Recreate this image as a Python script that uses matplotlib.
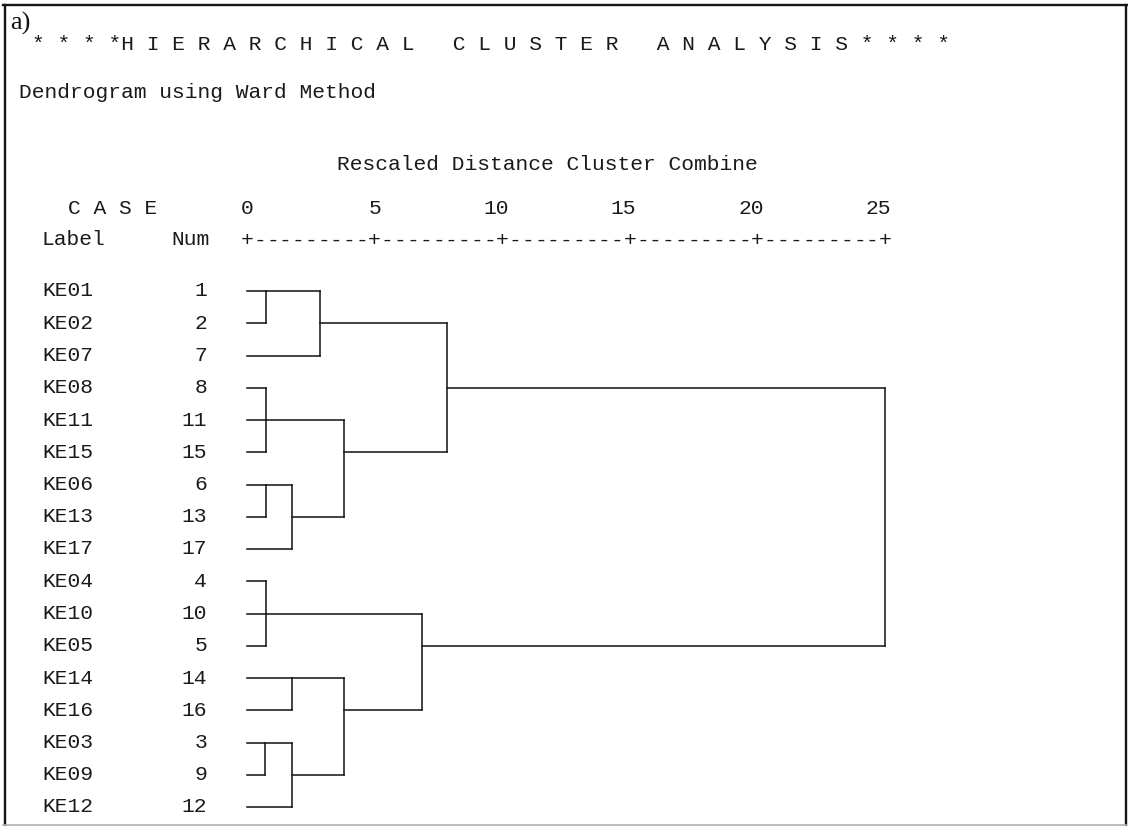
import numpy as np
import matplotlib.pyplot as plt
from matplotlib.lines import Line2D
from matplotlib.transforms import ScaledTranslation

# cases in dendrogram order (top to bottom)
case_labels = ["KE01", "KE02", "KE07", "KE08", "KE11", "KE15", "KE06", "KE13", "KE17",
               "KE04", "KE10", "KE05", "KE14", "KE16", "KE03", "KE09", "KE12"]
case_nums = [1, 2, 7, 8, 11, 15, 6, 13, 17, 4, 10, 5, 14, 16, 3, 9, 12]

# agglomeration steps: new cluster id, what it joins, rescaled distance
merge_ids = ["c1", "c2", "c3", "c4", "c5", "c6", "c7", "c8", "c9",
             "c10", "c11", "c12", "c13", "c14"]
merge_children = [[1, 2], [8, 11, 15], [6, 13], [4, 10, 5], [3, 9],
                  ["c5", 12], [14, 16], ["c3", 17], ["c1", 7],
                  ["c2", "c8"], ["c7", "c6"], ["c4", "c11"],
                  ["c9", "c10"], ["c13", "c12"]]
merge_heights = [0.75, 0.75, 0.75, 0.75, 0.72, 1.78, 1.78, 1.78, 2.85,
                 3.82, 3.80, 6.85, 7.85, 25.0]

tick_values = [0, 5, 10, 15, 20, 25]

W, H, DPI = 1128, 826, 100
MONO = "Liberation Mono"
CHAR_PX = 12.78                      # width of one character cell
FS = CHAR_PX / 0.6 * 72 / DPI        # Liberation Mono advance is 0.6 em
INK = "#1a1a1a"

fig = plt.figure(figsize=(W / DPI, H / DPI), dpi=DPI)
fig.patch.set_facecolor("white")


def px(x, y):
    return x / W, 1 - y / H


# frame around the printout
frame = dict(transform=fig.transFigure, color="#161616", lw=1.7)
fig.add_artist(Line2D([3 / W, 1], [1 - 5 / H] * 2, **frame))
fig.add_artist(Line2D([4.5 / W] * 2, [0, 1 - 5 / H], **frame))
fig.add_artist(Line2D([1126 / W] * 2, [0, 1 - 5 / H], **frame))
fig.add_artist(Line2D([3 / W, 1126 / W], [0.8 / H] * 2, transform=fig.transFigure,
                      color="#b0b0b0", lw=1.2))

txt = dict(family=MONO, fontsize=FS, color=INK, va="center")
fig.text(*px(10, 23), "a)", family="Liberation Serif", fontsize=19, color="#111111",
         va="center", ha="left")
fig.text(*px(19 + CHAR_PX, 45),
         "* * * *H I E R A R C H I C A L   C L U S T E R   A N A L Y S I S * * * *",
         ha="left", **txt)
fig.text(*px(19, 93), "Dendrogram using Ward Method", ha="left", **txt)
fig.text(*px(337, 165), "Rescaled Distance Cluster Combine", ha="left", **txt)
fig.text(*px(68, 208), "C A S E", ha="left", **txt)
fig.text(*px(42, 240), "Label", ha="left", **txt)
fig.text(*px(210, 240), "Num", ha="right", **txt)

# dendrogram panel: x = rescaled distance 0..25, y = case row
x0, x25 = 247, 885
y_top, y_bot = 291, 807
ax = fig.add_axes([x0 / W, 1 - y_bot / H, (x25 - x0) / W, (y_bot - y_top) / H])
ax.set_xlim(0, 25)
ax.set_ylim(len(case_nums) - 1, 0)
ax.axis("off")

yax = ax.get_yaxis_transform()
for i, (lab, num) in enumerate(zip(case_labels, case_nums)):
    ax.text((42 - x0) / (x25 - x0), i, lab, transform=yax, ha="left", **txt)
    ax.text((207 - x0) / (x25 - x0), i, str(num), transform=yax, ha="right", **txt)

# distance ruler +---------+---- and its numbers
xax = ax.get_xaxis_transform()
ruler_y = 1 + (y_top - 240) / (y_bot - y_top)
num_y = 1 + (y_top - 208) / (y_bot - y_top)
for v in np.arange(0, 25.01, 0.5):
    ch = "+" if v % 5 == 0 else "-"
    ax.text(v, ruler_y, ch, transform=xax, ha="center", **txt)
shift = xax + ScaledTranslation(CHAR_PX / 2 / DPI, 0, fig.dpi_scale_trans)
for t in tick_values:
    ax.text(t, num_y, str(t), transform=shift, ha="right", **txt)

# tree
node_row = {n: i for i, n in enumerate(case_nums)}
node_x = {n: 0.0 for n in case_nums}
seg = dict(color=INK, lw=1.15, solid_capstyle="projecting", clip_on=False)
for mid, kids, h in zip(merge_ids, merge_children, merge_heights):
    rows = [node_row[k] for k in kids]
    for k in kids:
        ax.plot([node_x[k], h], [node_row[k], node_row[k]], **seg)
    ax.plot([h, h], [min(rows), max(rows)], **seg)
    node_row[mid] = int(np.floor(np.mean(rows)))
    node_x[mid] = h

fig.savefig("out.png", dpi=DPI, facecolor="white")
